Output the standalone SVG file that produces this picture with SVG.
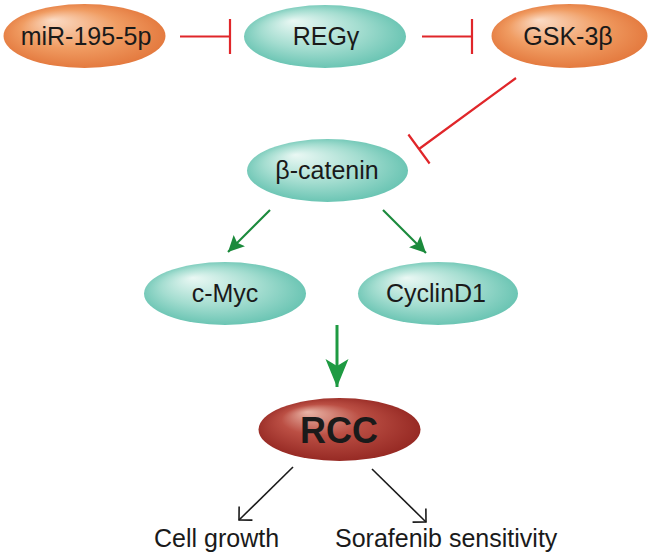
<svg xmlns="http://www.w3.org/2000/svg" width="648" height="557" viewBox="0 0 648 557">
<style>
  .lbl{font-family:"Liberation Sans",Arial,sans-serif;font-size:25px;fill:#1a1a1a;text-anchor:middle}
  .out{font-family:"Liberation Sans",Arial,sans-serif;font-size:25px;fill:#1a1a1a}
  .inh{stroke:#e0262a;stroke-width:2.2;fill:none}
  .act{stroke:#1b8a3c;stroke-width:2.2;fill:none}
  .blk{stroke:#1a1a1a;stroke-width:1.6;fill:none}
</style>
<defs>
  <radialGradient id="gOr" cx="0.5" cy="0.5" r="0.55" fx="0.3" fy="0.25">
    <stop offset="0" stop-color="#fbdcc6"/>
    <stop offset="0.55" stop-color="#f09c62"/>
    <stop offset="1" stop-color="#e2753a"/>
  </radialGradient>
  <radialGradient id="gTe" cx="0.5" cy="0.5" r="0.55" fx="0.3" fy="0.25">
    <stop offset="0" stop-color="#eaf8f4"/>
    <stop offset="0.55" stop-color="#a4ddd0"/>
    <stop offset="1" stop-color="#62c1af"/>
  </radialGradient>
  <radialGradient id="gRd" cx="0.5" cy="0.5" r="0.55" fx="0.3" fy="0.22">
    <stop offset="0" stop-color="#e9b4a6"/>
    <stop offset="0.45" stop-color="#bb4f44"/>
    <stop offset="1" stop-color="#922520"/>
  </radialGradient>
  <marker id="ag" viewBox="-16 -8 17 16" refX="0" refY="0" markerWidth="17" markerHeight="16" markerUnits="userSpaceOnUse" orient="auto">
    <path d="M0,0 L-16,-8 L-13,0 L-16,8 Z" fill="#1b8a3c"/>
  </marker>
  <marker id="agb" viewBox="-28 -12 29 24" refX="0" refY="0" markerWidth="29" markerHeight="24" markerUnits="userSpaceOnUse" orient="auto">
    <path d="M0,0 L-28,-11.5 L-21,0 L-28,11.5 Z" fill="#1e9a42"/>
  </marker>
  <marker id="ab" viewBox="-12 -11 14 22" refX="0" refY="0" markerWidth="14" markerHeight="22" markerUnits="userSpaceOnUse" orient="auto">
    <path d="M-9.5,-9.5 L0,0 L-9.5,9.5" fill="none" stroke="#1a1a1a" stroke-width="1.6"/>
  </marker>
</defs>

<g id="connectors">
  <path class="inh" d="M180,36.5 L230,36.5 M230,19 L230,54"/>
  <path class="inh" d="M422,36.5 L472,36.5 M472,19 L472,54"/>
  <path class="inh" d="M516,78 L419,149 M408.4,134.5 L429.6,163.5"/>
  <line class="act" x1="270" y1="210" x2="228" y2="252" marker-end="url(#ag)"/>
  <line class="act" x1="383" y1="210" x2="426" y2="253" marker-end="url(#ag)"/>
  <line x1="337" y1="325" x2="337" y2="387" stroke="#1e9a42" stroke-width="3" marker-end="url(#agb)"/>
  <line class="blk" x1="293" y1="467" x2="239" y2="520" marker-end="url(#ab)"/>
  <line class="blk" x1="372" y1="469" x2="426" y2="522" marker-end="url(#ab)"/>
</g>

<g id="mir">
  <ellipse cx="84.5" cy="36" rx="81" ry="32" fill="url(#gOr)"/>
  <text class="lbl" x="86" y="45">miR-195-5p</text>
</g>
<g id="reg">
  <ellipse cx="325" cy="36.5" rx="81" ry="31.5" fill="url(#gTe)"/>
  <text class="lbl" x="326" y="45">REGγ</text>
</g>
<g id="gsk">
  <ellipse cx="569.5" cy="36" rx="78" ry="32" fill="url(#gOr)"/>
  <text class="lbl" x="568" y="45">GSK-3β</text>
</g>
<g id="bcat">
  <ellipse cx="327.5" cy="170.5" rx="80.5" ry="31.5" fill="url(#gTe)"/>
  <text class="lbl" x="327" y="179">β-catenin</text>
</g>
<g id="cmyc">
  <ellipse cx="225" cy="293.5" rx="81" ry="31.5" fill="url(#gTe)"/>
  <text class="lbl" x="225" y="302">c-Myc</text>
</g>
<g id="cyclind1">
  <ellipse cx="438" cy="293.5" rx="80" ry="31.5" fill="url(#gTe)"/>
  <text class="lbl" x="436" y="302">CyclinD1</text>
</g>
<g id="rcc">
  <ellipse cx="339.5" cy="429.5" rx="81" ry="31.5" fill="url(#gRd)"/>
  <text class="lbl" x="339" y="443" style="font-size:36px;font-weight:bold">RCC</text>
</g>
<g id="cellgrowth">
  <text class="out" x="154" y="547">Cell growth</text>
</g>
<g id="sorafenib">
  <text class="out" x="335" y="547">Sorafenib sensitivity</text>
</g>
</svg>
